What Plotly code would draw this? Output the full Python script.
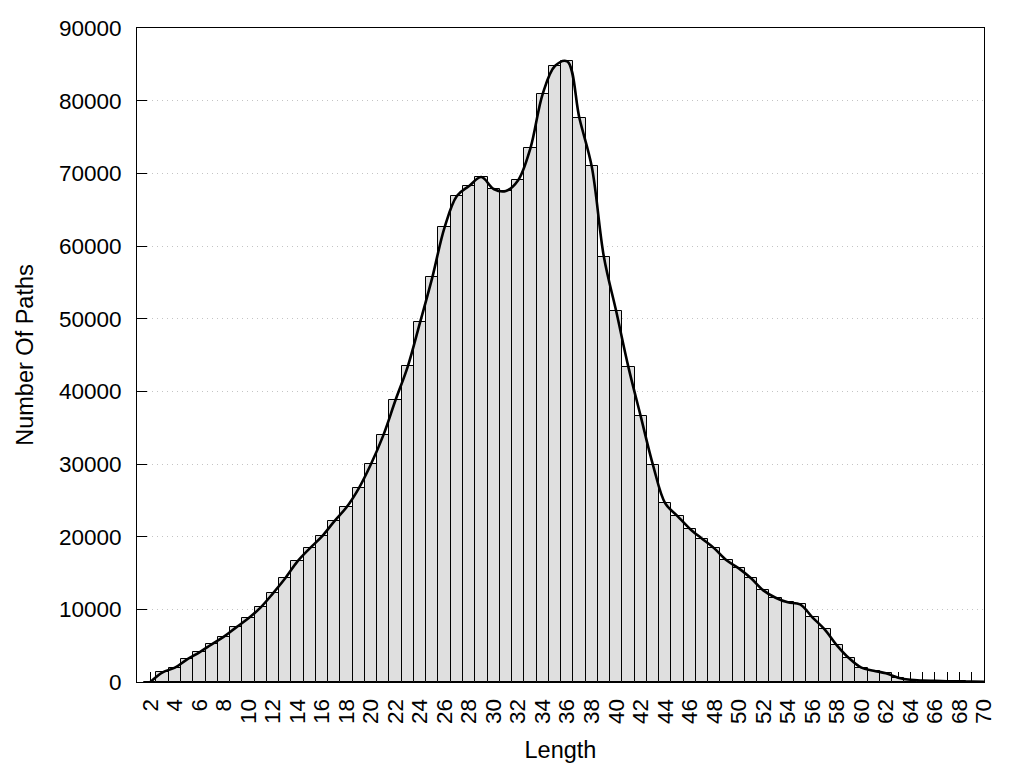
import plotly.graph_objects as go

lengths = list(range(2, 71))
paths = [
    0, 1330, 1970, 3120, 4080, 5180, 6240, 7520, 8760, 10270,      # 2-11
    12200, 14270, 16600, 18390, 20040, 22110, 24040, 26650, 30000, 33940,  # 12-21
    38800, 43440, 49500, 55690, 62570, 66880, 68250, 69490, 67840, 67570,  # 22-31
    69040, 73440, 80910, 84770, 85410, 77570, 70960, 58440, 51010, 43300,  # 32-41
    36560, 29860, 24590, 22840, 21100, 19720, 18390, 16740, 15640, 14270,  # 42-51
    12610, 11600, 10960, 10690, 8900, 7250, 5050, 3260, 1970, 1560,        # 52-61
    1190, 600, 300, 200, 150, 100, 80, 50, 30,                           # 62-70
]

tick_vals = lengths
tick_text = [str(v) if v % 2 == 0 else "" for v in lengths]
y_ticks = list(range(0, 90001, 10000))

FONT = "Liberation Sans, Arial, sans-serif"

fig = go.Figure()
fig.add_trace(go.Bar(
    x=lengths, y=paths, width=1.0,
    marker=dict(color="#dfdfdf", line=dict(color="black", width=1)),
    showlegend=False, hoverinfo="x+y",
))
fig.add_trace(go.Scatter(
    x=lengths, y=paths, mode="lines",
    line=dict(color="black", width=2.6, shape="spline", smoothing=1.0),
    showlegend=False,
))

fig.update_layout(
    width=1024, height=768,
    margin=dict(l=129, r=47.5, t=20, b=94),
    paper_bgcolor="white", plot_bgcolor="white",
    font=dict(family=FONT, size=22, color="black"),
    bargap=0,
)
fig.update_xaxes(
    range=[0.91, 70], tickvals=tick_vals, ticktext=tick_text, tickangle=-90,
    ticks="inside", ticklen=10, tickwidth=1, tickcolor="black",
    showline=True, linecolor="black", linewidth=1, mirror=True,
    showgrid=False, zeroline=False, layer="below traces", automargin=False,
    title=dict(text="Length", font=dict(size=23.5), standoff=18),
    tickfont=dict(size=22.5), ticklabelstandoff=7,
)
fig.update_yaxes(
    range=[0, 90000], tickvals=y_ticks, ticktext=[str(v) for v in y_ticks],
    ticks="inside", ticklen=10, tickwidth=1, tickcolor="black",
    showline=True, linecolor="black", linewidth=1, mirror=True,
    showgrid=True, gridcolor="#c4c4c4", griddash="1px,4px", gridwidth=1,
    zeroline=False, automargin=False,
    title=dict(text="Number Of Paths", font=dict(size=23.5), standoff=18),
    tickfont=dict(size=22.5), ticklabelstandoff=10,
)

fig.write_html("out.html")
